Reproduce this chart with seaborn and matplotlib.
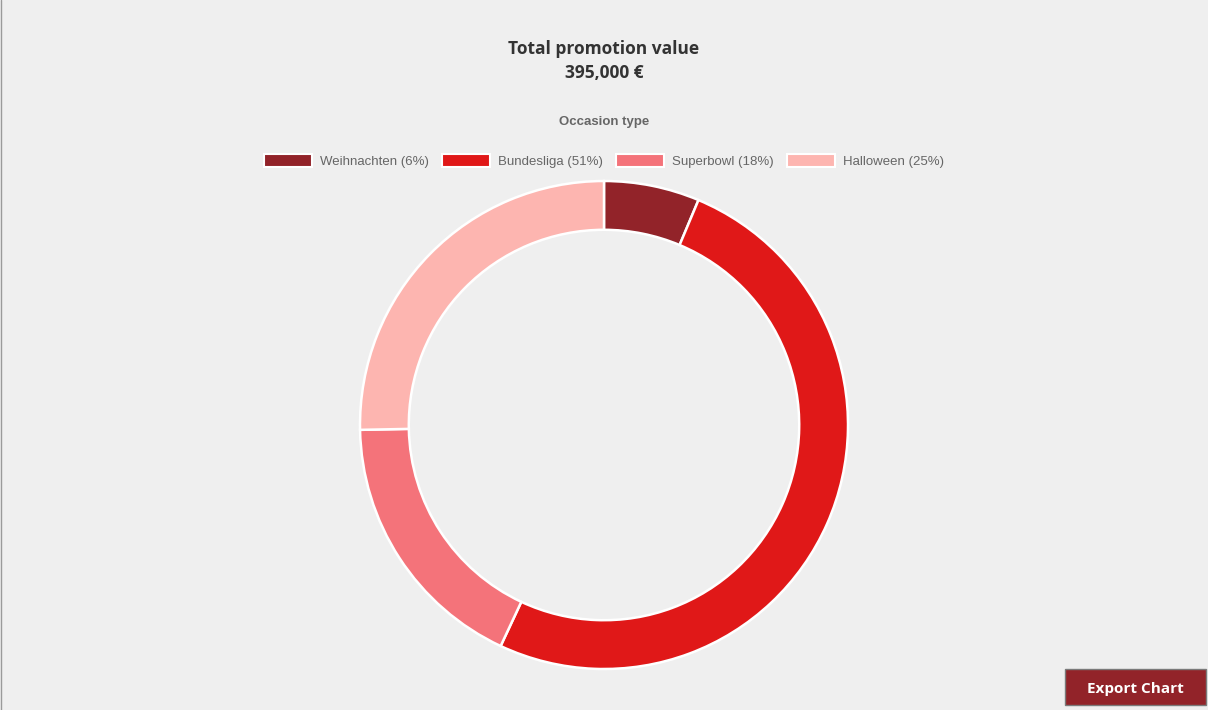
import matplotlib
matplotlib.use("Agg")
import matplotlib.pyplot as plt
import matplotlib.patches as mpatches
import seaborn as sns

# data
occasions = ["Weihnachten", "Bundesliga", "Superbowl", "Halloween"]
values = [25000, 200000, 70000, 100000]
colors = ["#922329", "#e01818", "#f4737a", "#fdb5b0"]

total = sum(values)
shares = [round(v / total * 100) for v in values]
labels = [f"{o} ({s}%)" for o, s in zip(occasions, shares)]

sns.set_theme(style="white")
plt.rcParams['font.family'] = ['Liberation Sans', 'DejaVu Sans']

bg = "#efefef"
fig = plt.figure(figsize=(12.08, 7.10), dpi=100, facecolor=bg)

# donut axes, sized in pixels
W, H = 1208, 710
cx, cy, r = 604, 425, 244
ax = fig.add_axes([(cx - r) / W, (H - cy - r) / H, 2 * r / W, 2 * r / H])
ax.set_facecolor(bg)
wedges, _ = ax.pie(values, colors=colors, startangle=90, counterclock=False,
                   radius=1.0,
                   wedgeprops=dict(width=0.2, edgecolor="white", linewidth=1.8))
ax.set_xlim(-1.0, 1.0)
ax.set_ylim(-1.0, 1.0)
ax.set_aspect("equal")
ax.axis("off")

# title
fig.text(0.5, 1 - 49 / H, "Total promotion value", ha="center", va="center",
         fontsize=12.5, fontweight="bold", color="#333333", family="Open Sans")
fig.text(0.5, 1 - 73 / H, f"{total:,} €", ha="center", va="center",
         fontsize=12.5, fontweight="bold", color="#333333", family="Open Sans")

# legend
handles = [mpatches.Patch(facecolor=c, edgecolor="white", linewidth=1.5) for c in colors]
leg = fig.legend(handles, labels, loc="center", bbox_to_anchor=(0.5, 1 - 161 / H),
                 ncol=4, frameon=False, fontsize=9.5, handlelength=3.6,
                 handleheight=1.1, handletextpad=0.6, columnspacing=1.05)
for t in leg.get_texts():
    t.set_color("#666666")
fig.text(0.5, 1 - 122 / H, "Occasion type", ha="center", va="center",
         fontsize=9.5, fontweight="bold", color="#666666")

# export button
btn = mpatches.Rectangle((1065 / W, 1 - 705 / H), 141 / W, 36 / H,
                         transform=fig.transFigure, facecolor="#922329",
                         edgecolor="#7a7a7a", linewidth=1)
fig.patches.append(btn)
fig.text((1065 + 70.5) / W, 1 - 689 / H, "Export Chart", ha="center", va="center",
         fontsize=11, fontweight="bold", color="white", family="Open Sans")

# thin frame on the left edge
fig.add_artist(plt.Line2D([1 / W, 1 / W], [0, 1], transform=fig.transFigure,
                          color="#9a9a9a", linewidth=1))

fig.savefig("out.png", dpi=100, facecolor=bg)
